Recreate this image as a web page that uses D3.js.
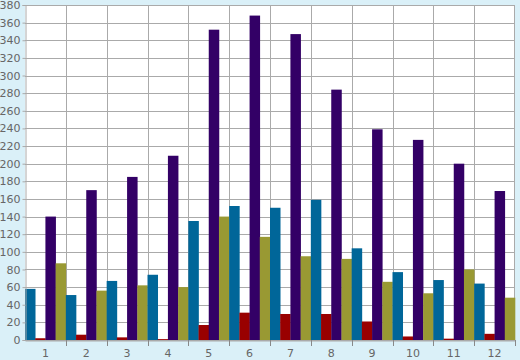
<!DOCTYPE html>
<html><head><meta charset="utf-8">
<script src="https://cdn.jsdelivr.net/npm/d3@7"></script>
<style>html,body{margin:0;padding:0;background:#daf0f8;}</style>
</head><body>
<svg id="c" width="520" height="360"></svg>
<script>
const categories = ["1","2","3","4","5","6","7","8","9","10","11","12"];
const seriesNames = ["A","B","C","D"];
const seriesA = [58, 51, 67, 74, 135, 152, 150, 159, 104, 77, 68, 64];
const seriesB = [2, 6, 3, 1, 17, 31, 29.5, 29.5, 21, 4, 1.5, 7];
const seriesC = [140, 170, 185, 209, 352, 368, 347, 284, 239, 227, 200, 169];
const seriesD = [87, 56, 62, 60, 140, 117, 95, 92, 66, 53, 80, 48];
const colors = ["#006699", "#990000", "#330066", "#999933"];
const yTicks = d3.range(0, 381, 20);

const series = [seriesA, seriesB, seriesC, seriesD];
const svg = d3.select("#c");
const L = 25, R = 515, T = 5, B = 340;
svg.append("rect").attr("width",520).attr("height",360).attr("fill","#daf0f8");
svg.append("rect").attr("x",L).attr("y",T).attr("width",R-L).attr("height",B-T).attr("fill","#fff");

const x = d3.scaleBand().domain(categories).range([L,R]).padding(0);
const xs = d3.scaleBand().domain(seriesNames).range([0,x.bandwidth()]).padding(0);
const y = d3.scaleLinear().domain([0,380]).range([B,T]);

// grid
const g = svg.append("g").attr("stroke","#aaaaaa").attr("stroke-width",1);
yTicks.forEach(t => g.append("line").attr("x1",L).attr("x2",R).attr("y1",Math.round(y(t))+0.5).attr("y2",Math.round(y(t))+0.5));
categories.forEach((c,i) => { if(i>0) g.append("line").attr("x1",Math.round(x(c))+0.5).attr("x2",Math.round(x(c))+0.5).attr("y1",T).attr("y2",B); });
g.append("line").attr("x1",R-0.5).attr("x2",R-0.5).attr("y1",T).attr("y2",B);
g.append("line").attr("x1",L).attr("x2",R).attr("y1",T+0.5).attr("y2",T+0.5);

// bars
categories.forEach((c,i) => {
  series.forEach((s,j) => {
    svg.append("rect")
      .attr("x", x(c) + xs(seriesNames[j]))
      .attr("y", y(s[i]))
      .attr("width", xs.bandwidth()+0.3)
      .attr("height", B - y(s[i]))
      .attr("fill", colors[j]);
  });
});

// axes
const yAxis = d3.axisLeft(y).tickValues(yTicks).tickSize(3).tickPadding(2);
const ya = svg.append("g").attr("transform",`translate(${L+0.5},0)`).call(yAxis);
ya.select(".domain").attr("stroke","#aaaaaa");
ya.selectAll(".tick line").attr("stroke","#aaaaaa");
ya.selectAll("text").attr("fill","#666").style("font-family","DejaVu Sans").style("font-size","11px");

const xAxis = d3.axisBottom(x).tickSize(0).tickPadding(9);
const xa = svg.append("g").attr("transform",`translate(0,${B+0.5})`).call(xAxis);
xa.select(".domain").attr("stroke","#aaaaaa");
xa.selectAll("text").attr("fill","#666").style("font-family","DejaVu Sans").style("font-size","11px");
categories.forEach((c,i) => {
  svg.append("line").attr("x1",Math.round(x(c)+x.bandwidth())+0.5).attr("x2",Math.round(x(c)+x.bandwidth())+0.5)
    .attr("y1",B).attr("y2",B+6).attr("stroke","#888");
});
</script>
</body></html>
